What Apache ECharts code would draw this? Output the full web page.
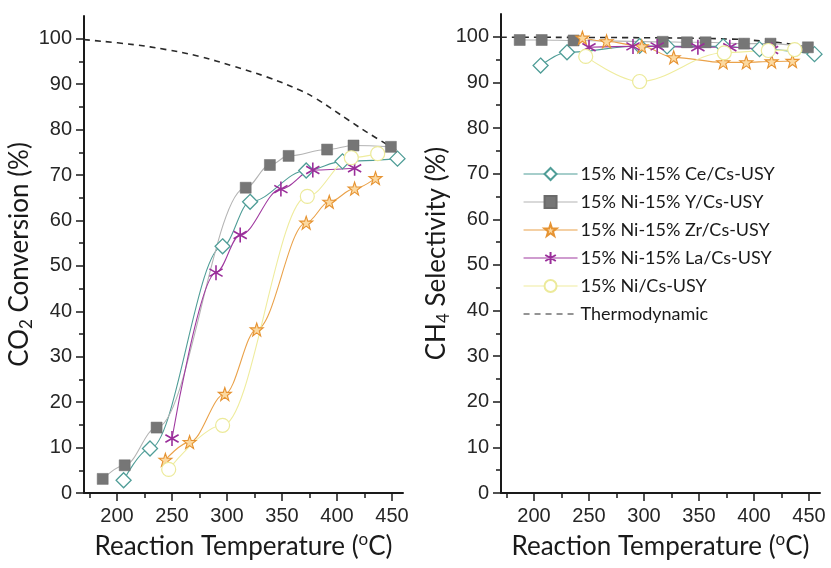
<!DOCTYPE html>
<html>
<head>
<meta charset="utf-8">
<script src="https://cdn.jsdelivr.net/npm/echarts@6/dist/echarts.min.js"></script>
<style>
  html, body { margin: 0; padding: 0; background: #fff; }
  #chart { width: 831px; height: 568px; }
</style>
</head>
<body>
<div id="chart"></div>
<script>
// Reaction temperatures (°C) and measured values for each catalyst
const tempCe = [206, 230, 296, 321, 372, 405, 455];
const convCe = [2.8, 9.8, 54.3, 64.1, 71.0, 73.0, 73.6];
const selCe  = [93.7, 96.6, 98.0, 97.9, 97.9, 97.3, 96.2];

const tempY = [187, 207, 236, 317, 339, 356, 391, 415, 449];
const convY = [3.1, 6.1, 14.4, 67.2, 72.2, 74.2, 75.6, 76.5, 76.2];
const selY  = [99.3, 99.3, 99.2, 98.9, 98.8, 98.8, 98.5, 98.5, 97.7];

const tempZr = [244, 266, 298, 327, 372, 393, 416, 435];
const convZr = [7.3, 11.2, 21.8, 36.0, 59.5, 64.1, 67.0, 69.3];
const selZr  = [99.8, 99.0, 97.9, 95.5, 94.4, 94.4, 94.6, 94.7];

const tempLa = [250, 290, 312, 349, 378, 416];
const convLa = [12.0, 48.5, 56.8, 66.9, 71.1, 71.5];
const selLa  = [97.7, 97.9, 97.9, 97.7, 97.7, 97.1];

const tempNi = [247, 296, 373, 413, 437];
const convNi = [5.2, 14.9, 65.3, 73.8, 74.7];
const selNi  = [95.7, 90.2, 96.5, 97.0, 97.2];

// Thermodynamic equilibrium limits
const tempThermoConv = [170, 215, 245, 275, 305, 336, 366, 381, 411, 426, 456];
const thermoConv     = [99.8, 98.7, 97.6, 96.1, 94.0, 91.6, 88.7, 86.8, 82.0, 79.6, 75.2];
const tempThermoSel  = [170, 300, 380, 410, 430, 450];
const thermoSel      = [99.9, 99.8, 99.5, 99.0, 98.5, 97.6];

// Axis ticks
const xMajorTicks = [200, 250, 300, 350, 400, 450];
const xMinorTicks = [175, 225, 275, 325, 375, 425];
const yMajorTicks = [0, 10, 20, 30, 40, 50, 60, 70, 80, 90, 100];
const yMinorTicks = [5, 15, 25, 35, 45, 55, 65, 75, 85, 95];

const zip = (xs, ys) => xs.map((x, i) => [x, ys[i]]);

const STAR = 'path://M50,2 L61.5,36 L97,36 L68.5,57.5 L79,92 L50,71 L21,92 L31.5,57.5 L3,36 L38.5,36 Z';
const ASTER = 'path://M50,0 L50,100 M6,25 L94,75 M6,75 L94,25 M0,50 L0,50.01 M100,50 L100,50.01';

const tickFont = { fontFamily: '"Liberation Sans", Arial, sans-serif', fontSize: 20, color: '#262626' };
const titleFont = { fontFamily: 'Lato, "Open Sans", sans-serif', fontSize: 26, color: '#1a1a1a' };

function xAxes(grid) {
  return [
    {
      type: 'value', gridIndex: grid, min: 170, max: 460, position: 'bottom',
      name: 'Reaction Temperature ({sup|o}C)',
      nameLocation: 'middle', nameGap: 38,
      nameTextStyle: Object.assign({}, titleFont, {
        rich: { sup: { fontFamily: 'Lato, sans-serif', fontSize: 17, color: '#1a1a1a', padding: [0, 0, 14, 0] } }
      }),
      axisLine: { show: true, onZero: false, lineStyle: { color: '#1a1a1a', width: 2 } },
      axisTick: { show: true, length: 8, customValues: xMajorTicks, lineStyle: { color: '#1a1a1a', width: 1.5 } },
      axisLabel: Object.assign({ margin: 13, customValues: xMajorTicks }, tickFont),
      splitLine: { show: false }
    },
    {
      type: 'value', gridIndex: grid, min: 170, max: 460, position: 'bottom', offset: 0,
      axisLine: { show: false, onZero: false },
      axisTick: { show: true, length: 5, customValues: xMinorTicks, lineStyle: { color: '#1a1a1a', width: 1.5 } },
      axisLabel: { show: false },
      splitLine: { show: false }
    }
  ];
}

function yAxes(grid, name) {
  return [
    {
      type: 'value', gridIndex: grid, min: 0, max: 105, position: 'left',
      name: name,
      nameLocation: 'middle', nameGap: 44,
      nameTextStyle: Object.assign({}, titleFont, {
        rich: {
          t: Object.assign({}, titleFont),
          sub: { fontFamily: 'Lato, sans-serif', fontSize: 17, color: '#1a1a1a', padding: [14, 0, 0, 0] }
        }
      }),
      axisLine: { show: true, onZero: false, lineStyle: { color: '#1a1a1a', width: 2 } },
      axisTick: { show: true, length: 8, customValues: yMajorTicks, lineStyle: { color: '#1a1a1a', width: 1.5 } },
      axisLabel: Object.assign({ margin: 12, customValues: yMajorTicks }, tickFont),
      splitLine: { show: false }
    },
    {
      type: 'value', gridIndex: grid, min: 0, max: 105, position: 'left', offset: 0,
      axisLine: { show: false, onZero: false },
      axisTick: { show: true, length: 5, customValues: yMinorTicks, lineStyle: { color: '#1a1a1a', width: 1.5 } },
      axisLabel: { show: false },
      splitLine: { show: false }
    }
  ];
}

// Catalyst styles
const styles = {
  ce: { name: '15% Ni-15% Ce/Cs-USY', line: '#4f9d97', symbol: 'diamond', size: 15, fill: '#ffffff', border: '#4f9d97', bw: 1.3 },
  y:  { name: '15% Ni-15% Y/Cs-USY', line: '#b4b4b4', symbol: 'rect', size: 11, fill: '#767676', border: '#6a6a6a', bw: 0.5 },
  zr: { name: '15% Ni-15% Zr/Cs-USY', line: '#eaa24a', symbol: STAR, size: 13, fill: '#fcd9a0', border: '#e69332', bw: 1.1 },
  la: { name: '15% Ni-15% La/Cs-USY', line: '#a03aa0', symbol: ASTER, size: 15, fill: '#a03aa0', border: '#9a2e9a', bw: 1.6 },
  ni: { name: '15% Ni/Cs-USY', line: '#efec9e', symbol: 'circle', size: 14, fill: '#ffffff', border: '#ecea9a', bw: 1.2 }
};

function catalystSeries(st, xs, ys, xi, yi) {
  return {
    type: 'line', name: st.name, xAxisIndex: xi, yAxisIndex: yi,
    data: zip(xs, ys), smooth: 0.35, smoothMonotone: 'x',
    symbol: st.symbol, symbolSize: st.size, showAllSymbol: true,
    lineStyle: { color: st.line, width: 1.1 },
    itemStyle: { color: st.fill, borderColor: st.border, borderWidth: st.bw },
    emphasis: { disabled: true }, animation: false
  };
}

function thermoSeries(xs, ys, xi, yi) {
  return {
    type: 'line', name: 'Thermodynamic', xAxisIndex: xi, yAxisIndex: yi,
    data: zip(xs, ys), smooth: 0.4, symbol: 'none',
    lineStyle: { color: '#2a2a2a', width: 1.6, type: [6, 5] },
    itemStyle: { color: '#2a2a2a' },
    emphasis: { disabled: true }, animation: false, z: 1
  };
}

const series = [
  catalystSeries(styles.ce, tempCe, convCe, 0, 0),
  catalystSeries(styles.y,  tempY,  convY,  0, 0),
  catalystSeries(styles.zr, tempZr, convZr, 0, 0),
  catalystSeries(styles.la, tempLa, convLa, 0, 0),
  catalystSeries(styles.ni, tempNi, convNi, 0, 0),
  thermoSeries(tempThermoConv, thermoConv, 0, 0),
  catalystSeries(styles.ce, tempCe, selCe, 2, 2),
  catalystSeries(styles.y,  tempY,  selY,  2, 2),
  catalystSeries(styles.zr, tempZr, selZr, 2, 2),
  catalystSeries(styles.la, tempLa, selLa, 2, 2),
  catalystSeries(styles.ni, tempNi, selNi, 2, 2),
  thermoSeries(tempThermoSel, thermoSel, 2, 2)
];

const chart = echarts.init(document.getElementById('chart'), null, { renderer: 'canvas' });
chart.setOption({
  backgroundColor: '#ffffff',
  animation: false,
  grid: [
    { left: 84, top: 16, width: 319, height: 477 },
    { left: 501, top: 14, width: 319, height: 479 }
  ],
  xAxis: xAxes(0).concat(xAxes(1)),
  yAxis: yAxes(0, '{t|CO}{sub|2}{t| Conversion (%)}').concat(yAxes(1, '{t|CH}{sub|4}{t| Selectivity (%)}')),
  legend: {
    orient: 'vertical', left: 518, top: 160,
    itemWidth: 54, itemHeight: 15, itemGap: 10,
    lineStyle: { width: 1.1 },
    textStyle: { fontFamily: 'Lato, "Open Sans", sans-serif', fontSize: 18, color: '#1a1a1a', padding: [0, 0, 0, -2] },
    data: [styles.ce.name, styles.y.name, styles.zr.name, styles.la.name, styles.ni.name,
           { name: 'Thermodynamic', itemStyle: { opacity: 0 } }],
    selectedMode: false
  },
  series: series
});
</script>
</body>
</html>
